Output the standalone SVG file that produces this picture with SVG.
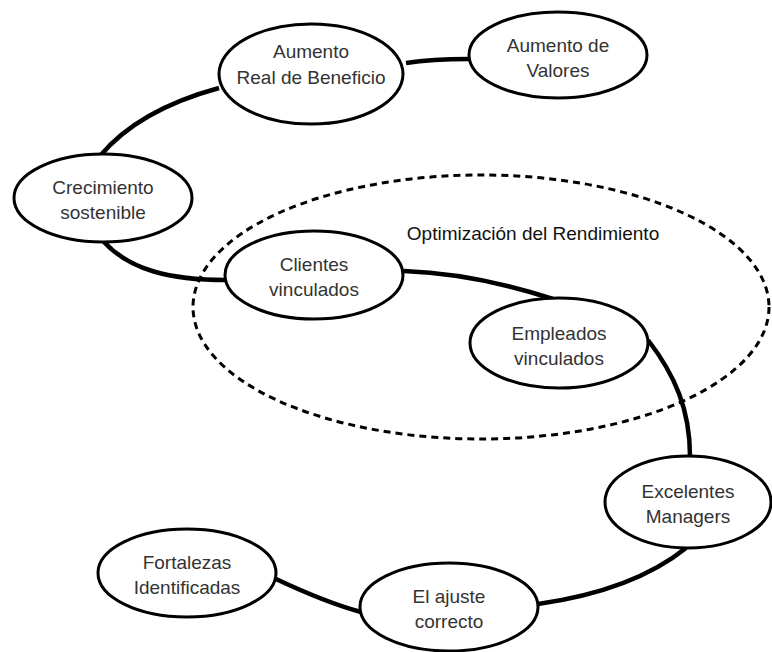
<svg xmlns="http://www.w3.org/2000/svg" width="772" height="652" viewBox="0 0 772 652">
<style>
.node ellipse{fill:#fff;stroke:#000;stroke-width:3}
.node text{font-family:"Liberation Sans",Arial,sans-serif;font-size:19px;fill:#333;text-anchor:middle}
.conn path{fill:none;stroke:#000;stroke-width:4.5;stroke-linecap:butt}
.group{fill:none;stroke:#000;stroke-width:3;stroke-dasharray:7 5}
.glabel{font-family:"Liberation Sans",Arial,sans-serif;font-size:19px;fill:#111;text-anchor:middle}
</style>
<rect width="772" height="652" fill="#fff"/>
<g id="group-optimizacion">
<ellipse class="group" cx="481" cy="307" rx="288" ry="132"/>
<text class="glabel" x="533" y="240">Optimización del Rendimiento</text>
</g>
<g id="connectors" class="conn">
<path d="M100,156 C130,120 175,100 219,88"/>
<path d="M406,63 C425,60 440,59 469,59"/>
<path d="M104,242 C130,270 170,280 226,280"/>
<path d="M404,271 C460,273 510,285 553,299"/>
<path d="M648,340 C675,375 690,410 690,456"/>
<path d="M686,548 C640,585 580,598 538,604"/>
<path d="M276,579 C310,595 335,605 361,612"/>
</g>
<g id="n-aumento-real" class="node">
<ellipse cx="311" cy="74" rx="92" ry="50"/>
<text x="311" y="58">Aumento</text>
<text x="311" y="84">Real de Beneficio</text>
</g>
<g id="n-aumento-valores" class="node">
<ellipse cx="558" cy="55" rx="89" ry="43"/>
<text x="558" y="52">Aumento de</text>
<text x="558" y="77">Valores</text>
</g>
<g id="n-crecimiento" class="node">
<ellipse cx="103" cy="198" rx="89" ry="44"/>
<text x="103" y="194">Crecimiento</text>
<text x="103" y="219">sostenible</text>
</g>
<g id="n-clientes" class="node">
<ellipse cx="314" cy="275" rx="89" ry="44"/>
<text x="314" y="271">Clientes</text>
<text x="314" y="296">vinculados</text>
</g>
<g id="n-empleados" class="node">
<ellipse cx="559" cy="343" rx="89" ry="45"/>
<text x="559" y="340">Empleados</text>
<text x="559" y="365">vinculados</text>
</g>
<g id="n-excelentes" class="node">
<ellipse cx="688" cy="502" rx="83" ry="46"/>
<text x="688" y="498">Excelentes</text>
<text x="688" y="523">Managers</text>
</g>
<g id="n-ajuste" class="node">
<ellipse cx="449" cy="607" rx="89" ry="44"/>
<text x="449" y="603">El ajuste</text>
<text x="449" y="628">correcto</text>
</g>
<g id="n-fortalezas" class="node">
<ellipse cx="187" cy="573" rx="89" ry="44"/>
<text x="187" y="569">Fortalezas</text>
<text x="187" y="594">Identificadas</text>
</g>
</svg>
